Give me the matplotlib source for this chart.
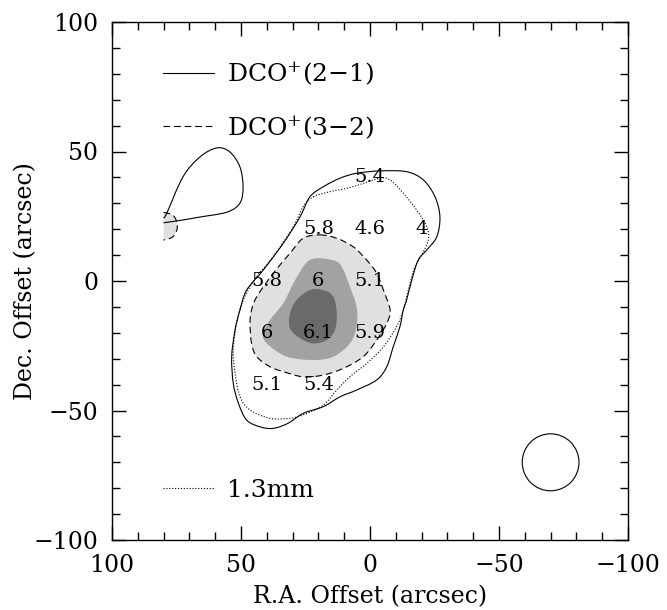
import matplotlib
matplotlib.use('Agg')
import matplotlib.pyplot as plt
import numpy as np
from matplotlib.patches import Circle, PathPatch
from matplotlib.path import Path
from matplotlib.ticker import MultipleLocator
from matplotlib.lines import Line2D

plt.rcParams['font.family'] = ['DejaVu Serif']
plt.rcParams['mathtext.fontset'] = 'dejavuserif'

# DCO+(2-1) contour (solid), main clump
dco21_ra = [5.2, -3.9, -14.2, -20.7, -25.2, -27.1, -25.9, -22.0, -18.7, -16.2, -14.2, -12.9,
            -11.6, -9.0, -6.5, -2.6, 5.2, 11.6, 18.1, 25.9, 31.7, 37.5, 42.6, 47.8,
            51.0, 53.0, 53.6, 52.3, 50.4, 47.8, 41.4, 33.6, 27.1, 23.3, 18.1, 11.6]
dco21_dec = [41.6, 42.5, 42.2, 39.0, 32.5, 24.8, 17.1, 12.0, 8.1, 0.4, -7.3, -11.2,
             -17.6, -25.4, -33.1, -38.2, -42.1, -44.7, -48.5, -51.1, -54.9, -56.9, -56.3, -53.7,
             -47.2, -39.5, -29.2, -18.9, -11.2, -3.5, 4.2, 14.6, 24.8, 32.5, 36.4, 39.7]

# DCO+(2-1) contour (solid), north-east loop cut by the map edge
dco21_ne_ra = [80.0, 78.8, 72.5, 65.9, 59.3, 54.3, 50.4, 49.2, 50.4, 55.4, 65.9, 74.8, 80.0]
dco21_ne_dec = [24.5, 26.1, 40.2, 47.9, 51.4, 49.8, 44.0, 36.3, 30.1, 26.6, 24.7, 23.2, 22.5]

# 1.3mm continuum contour (dotted)
mm_ra = [22.0, 15.5, 9.0, 2.6, -3.9, -7.8, -12.9, -18.1, -22.0, -22.6, -20.0, -17.4,
         -15.5, -12.9, -10.3, -5.2, 1.3, 7.8, 12.9, 18.1, 25.9, 31.0, 38.8, 46.5,
         50.4, 52.3, 53.0, 51.7, 49.1, 43.9, 37.5, 29.7, 25.9]
mm_dec = [32.5, 34.5, 35.8, 37.7, 39.7, 39.0, 33.9, 27.4, 21.0, 15.8, 10.0, 5.5,
          -0.9, -11.2, -17.6, -25.4, -31.8, -37.0, -42.1, -47.9, -51.7, -53.0, -53.0, -49.8,
          -44.7, -35.6, -26.6, -16.3, -7.3, 1.7, 9.4, 21.0, 28.7]

# DCO+(3-2) contour (dashed) = edge of the lightest grey level
dco32_ra = [19.4, 12.9, 6.5, 1.3, -2.6, -5.2, -7.8, -6.5, -2.6, 2.6, 10.3, 18.1,
            25.9, 33.6, 38.8, 43.9, 45.9, 46.5, 45.9, 43.9, 37.5, 31.0, 25.9]
dco32_dec = [17.8, 16.5, 13.2, 8.1, 3.0, -3.5, -11.2, -16.3, -22.8, -29.2, -33.7, -36.3,
             -37.0, -35.0, -33.1, -29.2, -24.1, -16.3, -11.2, -6.1, 3.0, 10.7, 16.5]

# DCO+(3-2) patch at the north-east map edge
dco32_ne_ra = [80.0, 76.5, 75.0, 74.8, 76.5, 80.0]
dco32_ne_dec = [26.5, 25.5, 23.0, 20.0, 17.0, 15.8]

# middle grey level
mid_ra = [19.4, 12.9, 10.3, 7.8, 5.2, 5.2, 7.8, 14.2, 22.0, 32.3, 40.0, 41.4,
          38.8, 33.6, 29.7, 25.9, 23.3]
mid_dec = [8.8, 7.5, 4.2, -2.2, -9.9, -17.6, -24.1, -29.2, -30.5, -29.2, -24.1, -20.2,
           -15.1, -8.6, -0.9, 5.5, 8.1]

# darkest grey level
dark_ra = [23.3, 18.1, 14.2, 12.9, 13.6, 16.8, 22.0, 27.1, 31.0, 31.0, 28.4]
dark_dec = [-3.5, -3.5, -6.1, -12.5, -18.9, -22.8, -24.1, -22.1, -18.3, -12.5, -7.3]

# values written on the map
lab_ra = [0, 20, 0, -20, 40, 20, 0, 40, 20, 0, 40, 20]
lab_dec = [40, 20, 20, 20, 0, 0, 0, -20, -20, -20, -40, -40]
lab_txt = ['5.4', '5.8', '4.6', '4', '5.8', '6', '5.1', '6', '6.1', '5.9', '5.1', '5.4']

# beam
beam_ra, beam_dec, beam_r = -70, -70, 11


def smooth(xs, ys, closed=True):
    # bezier through the traced vertices (catmull-rom tangents)
    p = np.column_stack([xs, ys])
    n = len(p)
    verts = [p[0]]
    codes = [Path.MOVETO]
    nseg = n if closed else n - 1
    for i in range(nseg):
        p0 = p[(i - 1) % n] if (closed or i > 0) else p[0]
        p1 = p[i]
        p2 = p[(i + 1) % n]
        p3 = p[(i + 2) % n] if (closed or i + 2 < n) else p[n - 1]
        verts += [p1 + (p2 - p0) / 6, p2 - (p3 - p1) / 6, p2]
        codes += [Path.CURVE4] * 3
    return Path(verts, codes)


fig = plt.figure(figsize=(6.67, 6.10), dpi=100)
ax = fig.add_axes([112 / 667, 70 / 610, 516 / 667, 518 / 610])

dash = (0, (6, 3.5))
dot = (0, (1, 1.6))

ax.add_patch(PathPatch(smooth(dco32_ra, dco32_dec), fc='#e0e0e0', ec='k', lw=0.8, ls=dash))
ax.add_patch(PathPatch(smooth(dco32_ne_ra, dco32_ne_dec, closed=False), fc='#e0e0e0',
                       ec='k', lw=0.8, ls=dash))
ax.add_patch(PathPatch(smooth(mid_ra, mid_dec), fc='#a2a2a2', ec='none'))
ax.add_patch(PathPatch(smooth(dark_ra, dark_dec), fc='#6a6a6a', ec='none'))
ax.add_patch(PathPatch(smooth(mm_ra, mm_dec), fc='none', ec='k', lw=0.8, ls=dot))
ax.add_patch(PathPatch(smooth(dco21_ra, dco21_dec), fc='none', ec='k', lw=0.8))
ax.add_patch(PathPatch(smooth(dco21_ne_ra, dco21_ne_dec, closed=False), fc='none',
                       ec='k', lw=0.8))

for x, y, t in zip(lab_ra, lab_dec, lab_txt):
    ax.text(x, y, t, ha='center', va='center', fontsize=14)

ax.add_patch(Circle((beam_ra, beam_dec), beam_r, fill=False, color='k', lw=0.8))

h1 = Line2D([], [], color='k', lw=0.8)
h2 = Line2D([], [], color='k', lw=0.8, ls=dash)
h3 = Line2D([], [], color='k', lw=0.8, ls=dot)
leg1 = ax.legend([h1, h2], ['DCO$^{+}$(2\u22121)', 'DCO$^{+}$(3\u22122)'],
                 loc='upper left', bbox_to_anchor=(0.099, 0.928), frameon=False,
                 fontsize=18, handlelength=2.05, handletextpad=0.5,
                 labelspacing=1.03, borderpad=0, borderaxespad=0)
ax.add_artist(leg1)
ax.legend([h3], ['1.3mm'], loc='lower left', bbox_to_anchor=(0.099, 0.074),
          frameon=False, fontsize=18, handlelength=2.05, handletextpad=0.5,
          borderpad=0, borderaxespad=0)

ax.set_xlim(100, -100)
ax.set_ylim(-100, 100)
ax.xaxis.set_major_locator(MultipleLocator(50))
ax.yaxis.set_major_locator(MultipleLocator(50))
ax.xaxis.set_minor_locator(MultipleLocator(10))
ax.yaxis.set_minor_locator(MultipleLocator(10))
ax.tick_params(which='both', direction='in', top=True, right=True, labelsize=17, width=1)
ax.tick_params(which='major', length=10, pad=10)
ax.tick_params(which='minor', length=5.5)
for s in ax.spines.values():
    s.set_linewidth(1)

ax.set_xlabel('R.A. Offset (arcsec)', fontsize=17, labelpad=6)
ax.set_ylabel('Dec. Offset (arcsec)', fontsize=17, labelpad=-3)

fig.savefig('out.png', dpi=100)
